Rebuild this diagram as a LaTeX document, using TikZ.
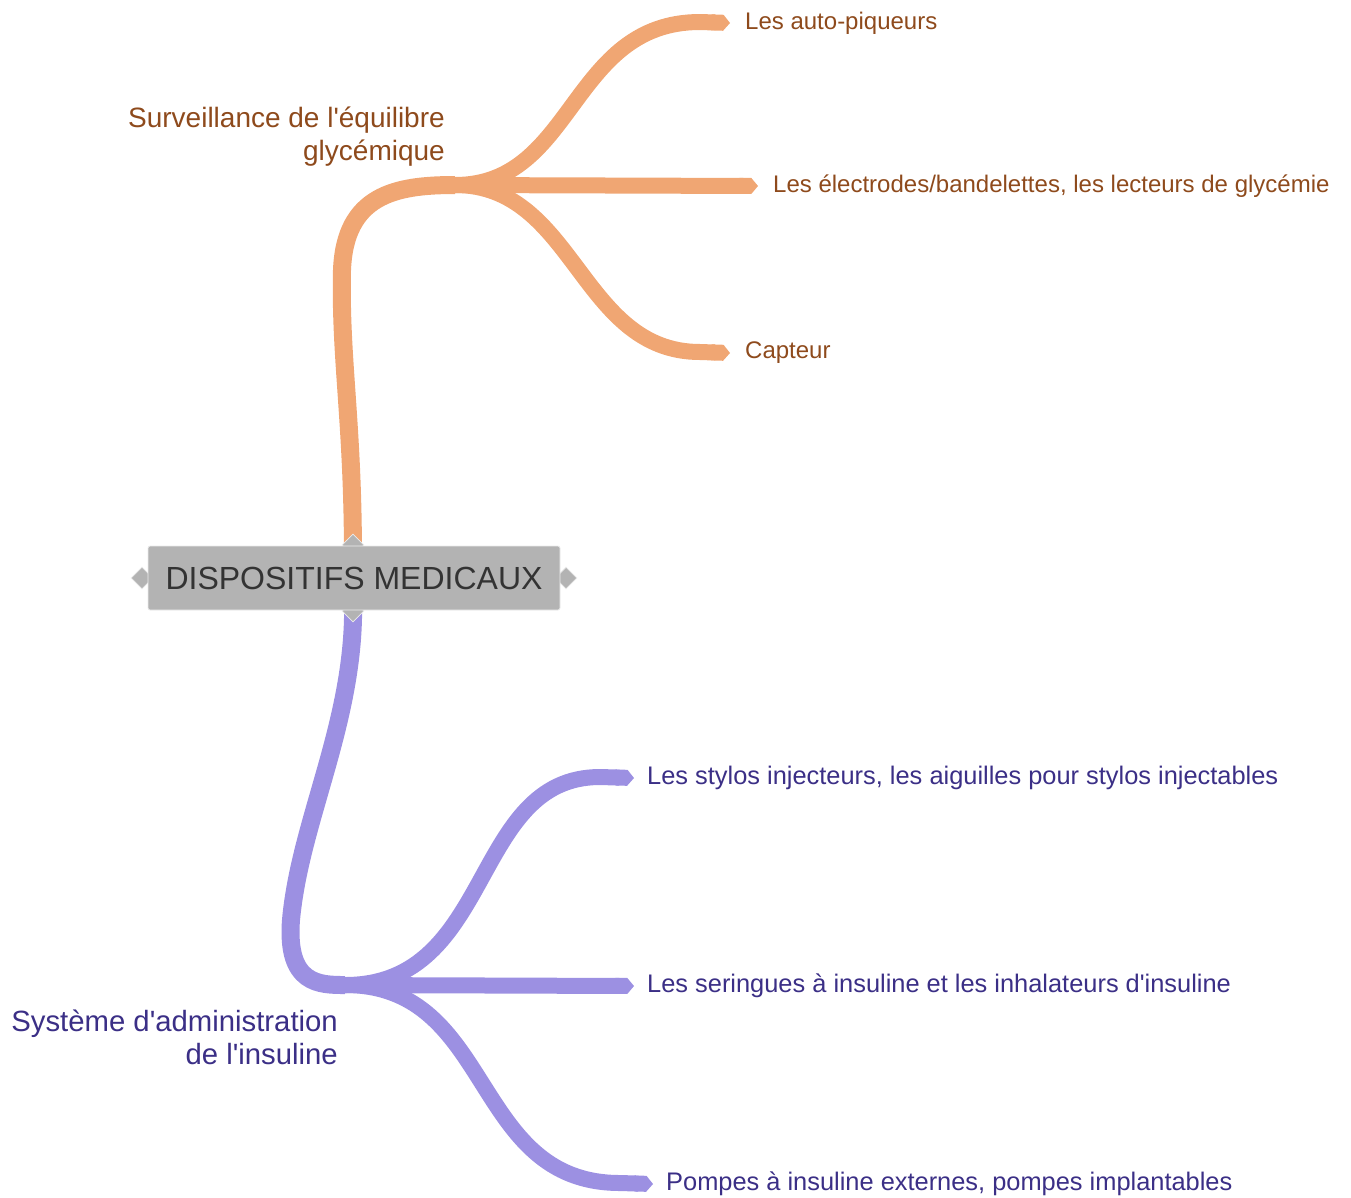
\documentclass[tikz,border=0pt]{standalone}
\usepackage{fontspec}
\setmainfont{Liberation Sans}[Ligatures=TeXOff]
\usetikzlibrary{arrows.meta,shapes.geometric}
\definecolor{orib}{HTML}{F0A673}
\definecolor{purib}{HTML}{9C90E2}
\definecolor{ortxt}{HTML}{8E4A1C}
\definecolor{putxt}{HTML}{3B2F86}
\definecolor{rootfill}{HTML}{B3B3B3}
\tikzset{
  orline/.style={draw=orib,line width=15pt,line cap=butt},
  puline/.style={draw=purib,line width=15pt,line cap=butt},
  ortip/.style={-{Triangle Cap[cap angle=100]}},
  orlbl/.style={text=ortxt,inner sep=0pt,font=\fontsize{24}{28}\selectfont},
  pulbl/.style={text=putxt,inner sep=0pt,font=\fontsize{25.4}{30}\selectfont},
  bigor/.style={text=ortxt,inner sep=0pt,align=right,font=\fontsize{28}{33}\selectfont},
  bigpu/.style={text=putxt,inner sep=0pt,align=right,font=\fontsize{29.3}{33}\selectfont},
  knob/.style={diamond,fill=rootfill,draw=white!85!gray,line width=0.8pt,minimum width=22pt,minimum height=22pt,inner sep=0pt}
}
\begin{document}
\begin{tikzpicture}[x=1pt,y=-1pt]
\useasboundingbox (0,0) rectangle (1351,1197);
% junctions
\coordinate (jo) at (455,185);
\coordinate (jp) at (345,985);
% labels
\node[bigor,anchor=east] (surv) at (445,137) {Surveillance de l'équilibre\\glycémique};
\node[bigpu,anchor=east] (syst) at (338,1037) {Système d'administration\\de l'insuline};
\node[orlbl,anchor=west] (c1) at (745,23) {Les auto-piqueurs};
\node[orlbl,anchor=west] (c2) at (773,186) {Les électrodes/bandelettes, les lecteurs de glycémie};
\node[orlbl,anchor=west] (c3) at (745,353) {Capteur};
\node[pulbl,anchor=west] (p1) at (647,778) {Les stylos injecteurs, les aiguilles pour stylos injectables};
\node[pulbl,anchor=west] (p2) at (647,986) {Les seringues à insuline et les inhalateurs d'insuline};
\node[pulbl,anchor=west] (p3) at (666,1184) {Pompes à insuline externes, pompes implantables};
% branches orange
\draw[orline,line width=18pt] (353,560) .. controls (353,420) and (340,360) .. (342,270) .. controls (345,195) and (395,185) .. (jo);
\draw[orline,ortip,line width=16pt] (jo) .. controls (575,185) and (570,22) .. (700,22) -- ([xshift=-15pt]c1.west);
\draw[orline,ortip,line width=16pt] (jo) -- ([xshift=-15pt]c2.west);
\draw[orline,ortip,line width=16pt] (jo) .. controls (575,185) and (580,352) .. (700,352) -- ([xshift=-15pt]c3.west);
% branches purple
\draw[puline,line width=18pt] (353,600) .. controls (356,720) and (300,820) .. (291,920) .. controls (286,985) and (320,985) .. (jp);
\draw[puline,ortip,line width=16pt] (jp) .. controls (495,985) and (470,777) .. (600,777) -- ([xshift=-13pt]p1.west);
\draw[puline,ortip,line width=16pt] (jp) -- ([xshift=-13pt]p2.west);
\draw[puline,ortip,line width=16pt] (jp) .. controls (495,985) and (470,1183) .. (620,1183) -- ([xshift=-13pt]p3.west);
% root
\node[knob] (kl) at (142,578) {};
\node[knob] (kr) at (566,578) {};
\node[knob] (kt) at (353,545) {};
\node[knob] (kb) at (353,611) {};
\node[draw=white!85!gray,line width=0.8pt,fill=rootfill,minimum width=412pt,minimum height=64pt,rounded corners=2pt,inner sep=0pt,text=black!80,font=\fontsize{32}{38}\selectfont] (root) at (354,578) {DISPOSITIFS MEDICAUX};
\end{tikzpicture}
\end{document}
